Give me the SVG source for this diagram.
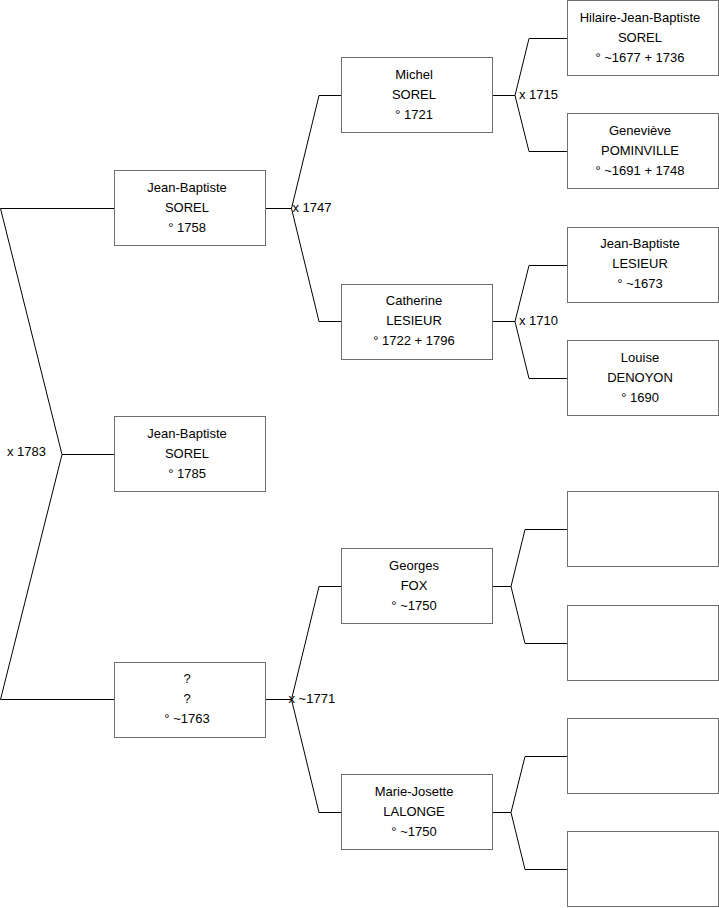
<svg xmlns="http://www.w3.org/2000/svg" width="719" height="908" viewBox="0 0 719 908">
<style>
.box{fill:#fff;stroke:#6e6e6e;stroke-width:1}
.t{font-family:"Liberation Sans",Arial,sans-serif;font-size:13px;fill:#000;text-anchor:middle}
.l{font-family:"Liberation Sans",Arial,sans-serif;font-size:13px;fill:#000}
.c{fill:none;stroke:#000;stroke-width:1}
</style>
<rect width="719" height="908" fill="#fff"/>
<g id="connectors">
<polyline class="c" points="114,208.5 0.5,208.5 62,454.5 0.5,699.5 114,699.5"/>
<line class="c" x1="62" y1="454.5" x2="114" y2="454.5"/>
<text class="l" x="7" y="456">x 1783</text>
<polyline class="c" points="341,95.5 319,95.5 291.5,208.5 319,321.5 341,321.5"/>
<line class="c" x1="265" y1="208.5" x2="291.5" y2="208.5"/>
<text class="l" x="292.5" y="212">x 1747</text>
<polyline class="c" points="341,586.5 319,586.5 291.5,699.5 319,812.5 341,812.5"/>
<line class="c" x1="265" y1="699.5" x2="291.5" y2="699.5"/>
<text class="l" x="288.5" y="703">x ~1771</text>
<polyline class="c" points="567,38.5 529,38.5 515,95.5 529,151.5 567,151.5"/>
<line class="c" x1="492" y1="95.5" x2="515" y2="95.5"/>
<text class="l" x="519" y="99">x 1715</text>
<polyline class="c" points="567,265.5 529,265.5 515,321.5 529,378.5 567,378.5"/>
<line class="c" x1="492" y1="321.5" x2="515" y2="321.5"/>
<text class="l" x="519" y="325">x 1710</text>
<polyline class="c" points="567,529.5 525,529.5 511,586.5 525,643.5 567,643.5"/>
<line class="c" x1="492" y1="586.5" x2="511" y2="586.5"/>
<polyline class="c" points="567,756.5 525,756.5 511,812.5 525,869.5 567,869.5"/>
<line class="c" x1="492" y1="812.5" x2="511" y2="812.5"/>
</g>
<g id="n1"><rect class="box" x="114.5" y="170.5" width="151" height="75"/><text class="t" x="187" y="192">Jean-Baptiste</text><text class="t" x="187" y="211.5">SOREL</text><text class="t" x="187" y="231.5">° 1758</text></g>
<g id="n0"><rect class="box" x="114.5" y="416.5" width="151" height="75"/><text class="t" x="187" y="438">Jean-Baptiste</text><text class="t" x="187" y="457.5">SOREL</text><text class="t" x="187" y="477.5">° 1785</text></g>
<g id="n2"><rect class="box" x="114.5" y="662.5" width="151" height="75"/><text class="t" x="187" y="683">?</text><text class="t" x="187" y="702.5">?</text><text class="t" x="187" y="722.5">° ~1763</text></g>
<g id="n3"><rect class="box" x="341.5" y="57.5" width="151" height="75"/><text class="t" x="414" y="79">Michel</text><text class="t" x="414" y="98.5">SOREL</text><text class="t" x="414" y="118.5">° 1721</text></g>
<g id="n4"><rect class="box" x="341.5" y="284.5" width="151" height="75"/><text class="t" x="414" y="305">Catherine</text><text class="t" x="414" y="324.5">LESIEUR</text><text class="t" x="414" y="344.5">° 1722 + 1796</text></g>
<g id="n5"><rect class="box" x="341.5" y="548.5" width="151" height="75"/><text class="t" x="414" y="570">Georges</text><text class="t" x="414" y="589.5">FOX</text><text class="t" x="414" y="609.5">° ~1750</text></g>
<g id="n6"><rect class="box" x="341.5" y="774.5" width="151" height="75"/><text class="t" x="414" y="796">Marie-Josette</text><text class="t" x="414" y="815.5">LALONGE</text><text class="t" x="414" y="835.5">° ~1750</text></g>
<g id="n7"><rect class="box" x="567.5" y="0.5" width="151" height="75"/><text class="t" x="640" y="22">Hilaire-Jean-Baptiste</text><text class="t" x="640" y="41.5">SOREL</text><text class="t" x="640" y="61.5">° ~1677 + 1736</text></g>
<g id="n8"><rect class="box" x="567.5" y="113.5" width="151" height="75"/><text class="t" x="640" y="135">Geneviève</text><text class="t" x="640" y="154.5">POMINVILLE</text><text class="t" x="640" y="174.5">° ~1691 + 1748</text></g>
<g id="n9"><rect class="box" x="567.5" y="227.5" width="151" height="75"/><text class="t" x="640" y="248">Jean-Baptiste</text><text class="t" x="640" y="267.5">LESIEUR</text><text class="t" x="640" y="287.5">° ~1673</text></g>
<g id="n10"><rect class="box" x="567.5" y="340.5" width="151" height="75"/><text class="t" x="640" y="362">Louise</text><text class="t" x="640" y="381.5">DENOYON</text><text class="t" x="640" y="401.5">° 1690</text></g>
<g id="n11"><rect class="box" x="567.5" y="491.5" width="151" height="75"/></g>
<g id="n12"><rect class="box" x="567.5" y="605.5" width="151" height="75"/></g>
<g id="n13"><rect class="box" x="567.5" y="718.5" width="151" height="75"/></g>
<g id="n14"><rect class="box" x="567.5" y="831.5" width="151" height="75"/></g>
</svg>
